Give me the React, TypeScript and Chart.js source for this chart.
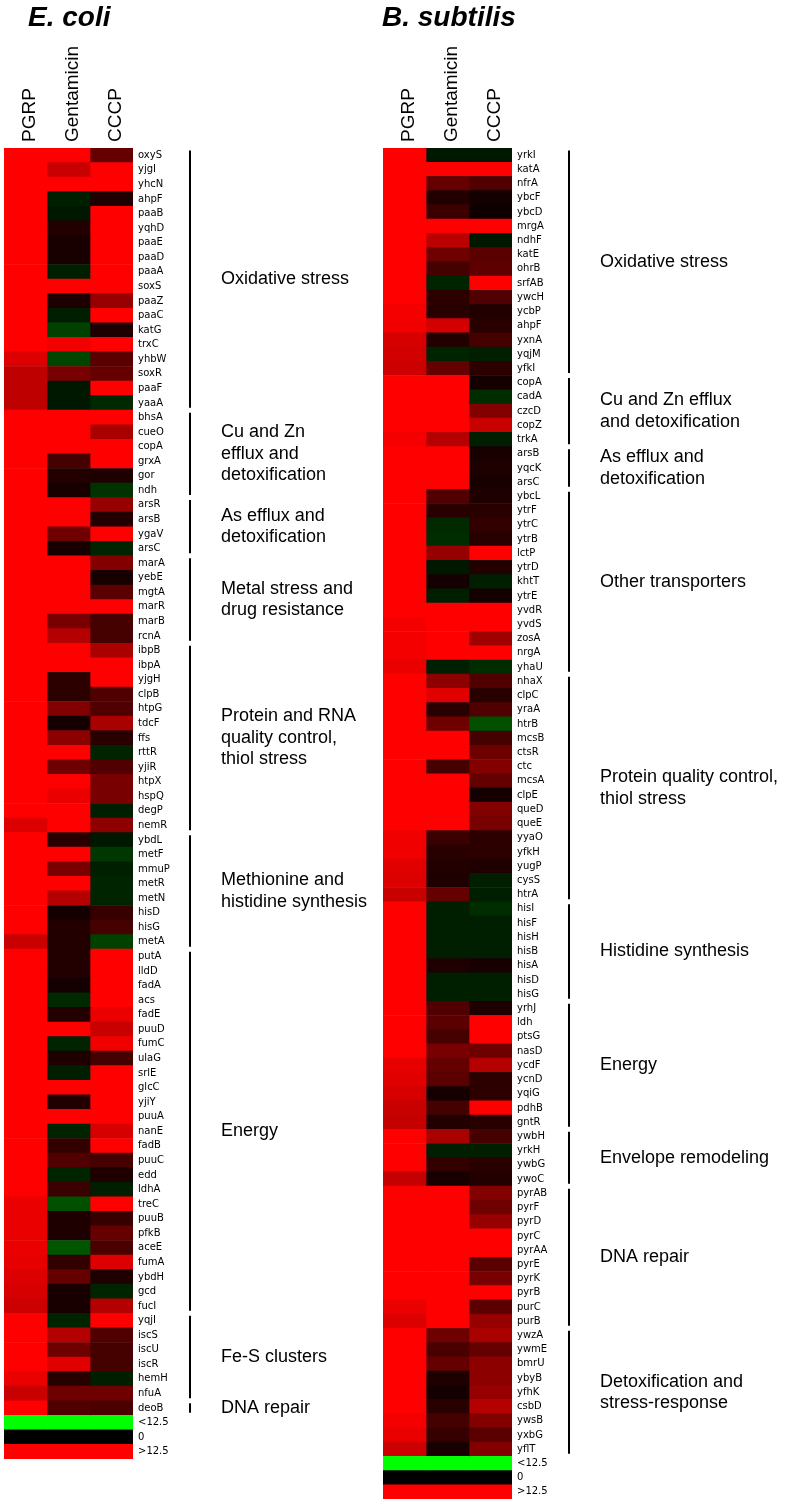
import React, { useEffect, useRef } from "react";
import { Chart, registerables } from "chart.js";

Chart.register(...registerables);

// ---------- shared ----------
const conditions = ["PGRP", "Gentamicin", "CCCP"];
const scaleLabels = ["<12.5", "0", ">12.5"];
const scaleValues = [-12.5, 0, 12.5];

// ---------- E. coli ----------
const ecoliGenes = [
  "oxyS", "yjgI", "yhcN", "ahpF", "paaB", "yqhD", "paaE", "paaD", "paaA", "soxS", "paaZ", "paaC", "katG", "trxC", "yhbW", "soxR", "paaF", "yaaA",
  "bhsA", "cueO", "copA", "grxA", "gor", "ndh",
  "arsR", "arsB", "ygaV", "arsC",
  "marA", "yebE", "mgtA", "marR", "marB", "rcnA",
  "ibpB", "ibpA", "yjgH", "clpB", "htpG", "tdcF", "ffs", "rttR", "yjiR", "htpX", "hspQ", "degP", "nemR",
  "ybdL", "metF", "mmuP", "metR", "metN", "hisD", "hisG", "metA",
  "putA", "lldD", "fadA", "acs", "fadE", "puuD", "fumC", "ulaG", "srlE", "glcC", "yjiY", "puuA", "nanE", "fadB", "puuC", "edd", "ldhA", "treC", "puuB", "pfkB", "aceE", "fumA", "ybdH", "gcd", "fucI",
  "yqjI", "iscS", "iscU", "iscR", "hemH", "nfuA",
  "deoB",
];
const ecoliPGRP = [
  12.5, 12.5, 12.5, 12.5, 12.5, 12.5, 12.5, 12.5, 12.5, 12.5, 12.5, 12.5, 12.5, 12.5, 10.8, 9.3, 9.3, 9.3,
  12.5, 12.5, 12.5, 12.5, 12.5, 12.5,
  12.5, 12.5, 12.5, 12.5,
  12.5, 12.5, 12.5, 12.5, 12.5, 12.5,
  12.5, 12.5, 12.5, 12.5, 12.5, 12.5, 12.5, 12.5, 12.5, 12.5, 12.5, 12.5, 10.8,
  12.5, 12.5, 12.5, 12.5, 12.5, 12.5, 12.5, 9.8,
  12.5, 12.5, 12.5, 12.5, 12.5, 12.5, 12.5, 12.5, 12.5, 12.5, 12.5, 12.5, 12.5, 12.5, 12.5, 12.5, 12.5, 11.5, 11.5, 11.5, 11.5, 11.3, 10.8, 10.5, 10.0,
  12.5, 12.5, 12.5, 12.5, 11.5, 9.8,
  12.5,
];
const ecoliGentamicin = [
  12.5, 9.8, 12.5, -1.5, -1.2, 1.7, 1.2, 1.2, -1.5, 12.5, 1.5, -1.5, -3.2, 11.8, -3.4, 5.9, -1.2, -1.2,
  12.5, 12.5, 12.5, 3.4, 1.7, 1.2,
  12.5, 12.5, 5.4, 1.2,
  12.5, 12.5, 12.5, 12.5, 5.9, 8.8,
  12.5, 12.5, 2.2, 2.2, 6.4, 1.0, 6.9, 12.5, 5.4, 12.5, 11.5, 12.5, 12.5,
  2.0, 12.5, 5.9, 12.5, 8.8, 1.0, 1.7, 1.7,
  1.7, 1.7, 1.0, -2.0, 1.7, 12.5, -1.7, 1.5, -1.5, 12.5, 1.7, 12.5, -1.7, 2.5, 3.9, -1.7, 2.9, -3.9, 1.5, 1.5, -4.2, 2.5, 4.9, 1.2, 1.2,
  -1.7, 8.8, 5.4, 11.0, 2.0, 5.4,
  3.9,
];
const ecoliCCCP = [
  4.9, 12.5, 12.5, 1.5, 12.5, 12.5, 12.5, 12.5, 12.5, 12.5, 7.4, 12.5, 1.5, 12.5, 4.4, 4.9, 12.5, -2.0,
  12.5, 8.3, 12.5, 12.5, 1.5, -2.5,
  7.4, 1.7, 12.5, -1.7,
  6.4, 1.2, 4.4, 12.5, 3.4, 3.4,
  8.3, 12.5, 12.5, 3.9, 3.9, 8.3, 2.0, -1.7, 3.9, 5.9, 5.9, -1.5, 6.9,
  -1.2, -2.7, -1.5, -1.7, -1.7, 2.7, 3.4, -3.2,
  12.5, 12.5, 12.5, 12.5, 11.5, 9.8, 11.8, 3.4, 12.5, 12.5, 12.5, 12.5, 10.5, 12.5, 3.4, 1.5, -1.5, 12.5, 2.7, 4.9, 3.7, 10.8, 1.5, -1.7, 8.8,
  12.5, 3.9, 3.4, 3.4, -1.5, 5.4,
  3.7,
];
const ecoliGroupNames = [
  ["Oxidative stress"],
  ["Cu and Zn", "efflux and", "detoxification"],
  ["As efflux and", "detoxification"],
  ["Metal stress and", "drug resistance"],
  ["Protein and RNA", "quality control,", "thiol stress"],
  ["Methionine and", "histidine synthesis"],
  ["Energy"],
  ["Fe-S clusters"],
  ["DNA repair"],
];
const ecoliGroupSizes = [18, 6, 4, 6, 13, 8, 25, 6, 1];

// ---------- B. subtilis ----------
const bsubGenes = [
  "yrkI", "katA", "nfrA", "ybcF", "ybcD", "mrgA", "ndhF", "katE", "ohrB", "srfAB", "ywcH", "ycbP", "ahpF", "yxnA", "yqjM", "yfkI",
  "copA", "cadA", "czcD", "copZ", "trkA",
  "arsB", "yqcK", "arsC",
  "ybcL", "ytrF", "ytrC", "ytrB", "lctP", "ytrD", "khtT", "ytrE", "yvdR", "yvdS", "zosA", "nrgA", "yhaU",
  "nhaX", "clpC", "yraA", "htrB", "mcsB", "ctsR", "ctc", "mcsA", "clpE", "queD", "queE", "yyaO", "yfkH", "yugP", "cysS", "htrA",
  "hisI", "hisF", "hisH", "hisB", "hisA", "hisD", "hisG",
  "yrhJ", "ldh", "ptsG", "nasD", "ycdF", "ycnD", "yqiG", "pdhB", "gntR",
  "ywbH", "yrkH", "ywbG", "ywoC",
  "pyrAB", "pyrF", "pyrD", "pyrC", "pyrAA", "pyrE", "pyrK", "pyrB", "purC", "purB",
  "ywzA", "ywmE", "bmrU", "ybyB", "yfhK", "csbD", "ywsB", "yxbG", "yflT",
];
const bsubPGRP = [
  12.5, 12.5, 12.5, 12.5, 12.5, 12.5, 12.5, 12.5, 12.5, 12.5, 12.5, 12.0, 11.8, 10.5, 10.3, 10.0,
  12.5, 12.5, 12.5, 12.5, 12.0,
  12.5, 12.5, 12.5,
  12.5, 12.5, 12.5, 12.5, 12.5, 12.5, 12.5, 12.5, 12.5, 12.0, 12.0, 12.0, 11.5,
  12.5, 12.5, 12.5, 12.5, 12.5, 12.5, 12.5, 12.5, 12.5, 12.5, 12.5, 11.8, 11.8, 11.0, 10.8, 9.8,
  12.5, 12.5, 12.5, 12.5, 12.5, 12.5, 12.5,
  12.5, 12.5, 12.5, 12.5, 11.3, 11.0, 10.5, 9.8, 9.6,
  12.5, 12.5, 12.5, 9.6,
  12.5, 12.5, 12.5, 12.5, 12.5, 12.5, 12.5, 12.5, 11.5, 10.8,
  12.5, 12.5, 12.5, 12.5, 12.5, 12.5, 12.0, 11.5, 10.0,
];
const bsubGentamicin = [
  -1.2, 12.5, 4.9, 1.7, 2.9, 12.5, 9.1, 5.4, 3.4, -1.7, 2.2, 2.0, 10.3, 1.7, -1.7, 4.9,
  12.5, 12.5, 12.5, 12.5, 8.8,
  12.5, 12.5, 12.5,
  3.9, 2.0, -2.0, -2.2, 7.4, -1.2, 1.0, -1.5, 12.5, 12.5, 12.5, 12.5, -1.5,
  6.9, 11.0, 2.0, 5.4, 12.5, 12.5, 3.4, 12.5, 12.5, 12.5, 12.5, 2.9, 2.0, 1.7, 1.5, 4.9,
  -1.5, -1.5, -1.5, -1.5, 1.5, -1.5, -1.5,
  3.9, 4.4, 3.4, 5.9, 4.9, 4.4, 1.0, 3.4, 1.7,
  8.3, -1.5, 2.5, 1.2,
  12.5, 12.5, 12.5, 12.5, 12.5, 12.5, 12.5, 12.5, 12.5, 12.5,
  5.4, 3.7, 4.9, 1.5, 1.0, 2.0, 3.4, 2.7, 1.2,
];
const bsubCCCP = [
  -1.2, 12.5, 3.9, 1.0, 0.7, 12.5, -1.2, 4.4, 4.6, 12.5, 3.9, 1.7, 2.0, 3.4, -1.5, 2.2,
  1.0, -2.2, 6.4, 9.8, -1.5,
  1.2, 1.5, 1.2,
  1.5, 2.0, 2.5, 2.0, 12.5, 1.7, -1.5, 1.0, 12.5, 12.5, 7.8, 12.5, -2.2,
  3.9, 2.0, 3.9, -3.9, 3.4, 5.4, 6.4, 4.9, 1.0, 6.4, 5.9, 2.2, 2.2, 1.5, -1.5, -1.5,
  -2.2, -1.5, -1.5, -1.5, 1.2, -1.5, -1.5,
  1.5, 12.5, 12.5, 5.4, 8.8, 2.2, 2.2, 12.5, 2.0,
  3.4, -1.5, 2.0, 1.7,
  6.4, 5.4, 7.4, 12.5, 12.5, 4.4, 5.9, 12.5, 4.4, 7.4,
  8.3, 4.9, 6.9, 6.9, 7.4, 8.8, 6.4, 4.4, 6.4,
];
const bsubGroupNames = [
  ["Oxidative stress"],
  ["Cu and Zn efflux", "and detoxification"],
  ["As efflux and", "detoxification"],
  ["Other transporters"],
  ["Protein quality control,", "thiol stress"],
  ["Histidine synthesis"],
  ["Energy"],
  ["Envelope remodeling"],
  ["DNA repair"],
  ["Detoxification and", "stress-response"],
];
const bsubGroupSizes = [16, 5, 3, 13, 16, 7, 9, 4, 10, 9];

// ---------- layout constants ----------
const AXIS_TOP = 148;
const HEATMAP_W = 129;
const GENE_AXIS_W = 50;
const BRACKET_DX = 57;
const LABEL_DX = 88;
const LABEL_LINE_H = 21.5;
const HEADER_DX = 4;
const HEADER_GAP = 6;
const SANS = '"Liberation Sans", Arial, Helvetica, sans-serif';

function heatColor(v: number): string {
  const t = Math.min(Math.abs(v) / 12.5, 1);
  const c = Math.round(255 * t);
  return v >= 0 ? `rgb(${c},0,0)` : `rgb(0,${c},0)`;
}

type HeatProps = {
  left: number;
  width: number;
  height: number;
  padLeft: number;
  padBottom: number;
  title: string;
  titleX: number;
  genes: string[];
  columns: number[][];
  groupNames: string[][];
  groupSizes: number[];
};

function Heatmap(props: HeatProps) {
  const ref = useRef<HTMLCanvasElement | null>(null);
  useEffect(() => {
    const { width, padLeft, padBottom, title, titleX, genes, columns, groupNames, groupSizes } = props;
    const labels = [...genes, ...scaleLabels];
    const datasets = columns.map((col, c) => {
      const vals = [...col, ...scaleValues];
      return {
        label: conditions[c],
        data: vals.map(() => [c, c + 1]),
        backgroundColor: vals.map(heatColor),
        borderWidth: 0,
        barPercentage: 1,
        categoryPercentage: 1,
        grouped: false,
      };
    });

    const annotations = {
      id: "annotations",
      afterDraw(chart: any) {
        const { ctx, chartArea, scales } = chart;
        const y = scales.y;
        const x = scales.x;
        const step = y.getPixelForValue(1) - y.getPixelForValue(0);
        ctx.save();
        ctx.fillStyle = "#000";

        // title
        ctx.textAlign = "left";
        ctx.textBaseline = "alphabetic";
        ctx.font = `italic bold 28px ${SANS}`;
        ctx.fillText(title, titleX, 26);

        // column headers (rotated, reading upward)
        ctx.font = `19px ${SANS}`;
        conditions.forEach((name, i) => {
          const px = x.getPixelForValue(i + 0.5);
          ctx.save();
          ctx.translate(px + HEADER_DX, chartArea.top - HEADER_GAP);
          ctx.rotate(-Math.PI / 2);
          ctx.textAlign = "left";
          ctx.textBaseline = "middle";
          ctx.fillText(name, 0, 0);
          ctx.restore();
        });

        // group brackets and labels
        let start = 0;
        groupSizes.forEach((n, g) => {
          const top = y.getPixelForValue(start) - step / 2;
          const bottom = y.getPixelForValue(start + n - 1) + step / 2;
          const bx = chartArea.right + BRACKET_DX;
          ctx.beginPath();
          ctx.lineWidth = 2;
          ctx.strokeStyle = "#000";
          ctx.moveTo(bx, top + 2.5);
          ctx.lineTo(bx, bottom - 2.5);
          ctx.stroke();
          const lines = groupNames[g];
          const mid = (top + bottom) / 2;
          ctx.font = `18px ${SANS}`;
          ctx.textAlign = "left";
          ctx.textBaseline = "middle";
          lines.forEach((ln, i) => {
            ctx.fillText(ln, chartArea.right + LABEL_DX, mid + (i - (lines.length - 1) / 2) * LABEL_LINE_H);
          });
          start += n;
        });
        ctx.restore();
      },
    };

    const chart = new Chart(ref.current as HTMLCanvasElement, {
      type: "bar",
      data: { labels, datasets: datasets as any },
      options: {
        indexAxis: "y",
        animation: false,
        responsive: false,
        maintainAspectRatio: false,
        layout: {
          padding: { left: padLeft, right: width - padLeft - HEATMAP_W - GENE_AXIS_W, top: 0, bottom: padBottom },
        },
        plugins: {
          legend: { display: false },
          title: { display: false },
          tooltip: { enabled: false },
        },
        scales: {
          x: {
            type: "linear",
            position: "top",
            min: 0,
            max: 3,
            grid: { display: false, drawTicks: false },
            border: { display: false },
            ticks: { display: false },
            afterFit: (axis: any) => {
              axis.height = AXIS_TOP;
              axis.paddingLeft = 0;
              axis.paddingRight = 0;
            },
          },
          y: {
            type: "category",
            position: "right",
            grid: { display: false, drawTicks: false },
            border: { display: false },
            afterFit: (axis: any) => {
              axis.width = GENE_AXIS_W;
            },
            ticks: {
              autoSkip: false,
              padding: 5,
              color: "#000",
              font: { family: '"DejaVu Sans", Verdana, sans-serif', size: 10 },
            },
          },
        },
      },
      plugins: [annotations],
    });
    return () => chart.destroy();
  }, []);

  return (
    <canvas
      ref={ref}
      width={props.width}
      height={props.height}
      style={{ position: "absolute", left: props.left, top: 0, width: props.width, height: props.height }}
    />
  );
}

export default function App() {
  return (
    <div style={{ position: "absolute", left: 0, top: 0, width: 788, height: 1510, background: "#fff", overflow: "hidden" }}>
      <Heatmap
        left={0}
        width={380}
        height={1470}
        padLeft={4}
        padBottom={9}
        title="E. coli"
        titleX={28}
        genes={ecoliGenes}
        columns={[ecoliPGRP, ecoliGentamicin, ecoliCCCP]}
        groupNames={ecoliGroupNames}
        groupSizes={ecoliGroupSizes}
      />
      <Heatmap
        left={380}
        width={408}
        height={1510}
        padLeft={3}
        padBottom={6}
        title="B. subtilis"
        titleX={2}
        genes={bsubGenes}
        columns={[bsubPGRP, bsubGentamicin, bsubCCCP]}
        groupNames={bsubGroupNames}
        groupSizes={bsubGroupSizes}
      />
    </div>
  );
}
